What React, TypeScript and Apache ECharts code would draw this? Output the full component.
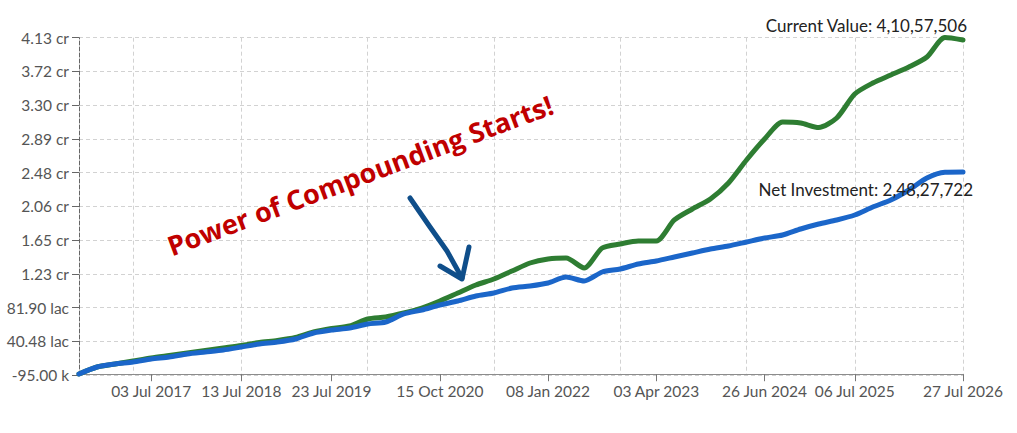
import React, { useEffect, useRef } from "react";
import * as echarts from "echarts";

// Dates of the data points (every 75 days, last point = current date)
const categories = [
  "06 Sep 2016", "20 Nov 2016", "03 Feb 2017", "19 Apr 2017", "03 Jul 2017",
  "16 Sep 2017", "30 Nov 2017", "13 Feb 2018", "29 Apr 2018", "13 Jul 2018",
  "26 Sep 2018", "10 Dec 2018", "23 Feb 2019", "09 May 2019", "23 Jul 2019",
  "06 Oct 2019", "20 Dec 2019", "04 Mar 2020", "18 May 2020", "01 Aug 2020",
  "15 Oct 2020", "29 Dec 2020", "14 Mar 2021", "28 May 2021", "11 Aug 2021",
  "25 Oct 2021", "08 Jan 2022", "24 Mar 2022", "07 Jun 2022", "21 Aug 2022",
  "04 Nov 2022", "18 Jan 2023", "03 Apr 2023", "17 Jun 2023", "31 Aug 2023",
  "14 Nov 2023", "28 Jan 2024", "12 Apr 2024", "26 Jun 2024", "09 Sep 2024",
  "23 Nov 2024", "06 Feb 2025", "22 Apr 2025", "06 Jul 2025", "19 Sep 2025",
  "03 Dec 2025", "16 Feb 2026", "02 May 2026", "16 Jul 2026", "27 Jul 2026",
];

const currentValue = [
  28000, 888000, 1256000, 1625000, 1993000, 2300000, 2607000, 2914000, 3221000, 3528000,
  3897000, 4143000, 4511000, 5187000, 5616000, 5924000, 6783000, 7029000, 7520000, 8134000,
  8994000, 9977000, 10960000, 11697000, 12679000, 13662000, 14153000, 14276000, 13048000, 15505000,
  15996000, 16364000, 16364000, 18944000, 20294000, 21523000, 23488000, 26313000, 28892000, 30980000,
  30857000, 30304000, 31472000, 34420000, 35770000, 36753000, 37736000, 38964000, 41360000, 41057506,
];

const netInvestment = [
  28000, 888000, 1256000, 1502000, 1870000, 2116000, 2484000, 2730000, 2976000, 3344000,
  3713000, 3958000, 4327000, 5064000, 5432000, 5678000, 6169000, 6415000, 7398000, 7889000,
  8503000, 8994000, 9608000, 9977000, 10591000, 10837000, 11205000, 11942000, 11451000, 12556000,
  12925000, 13539000, 13907000, 14399000, 14890000, 15381000, 15750000, 16241000, 16732000, 17101000,
  17838000, 18452000, 18943000, 19557000, 20540000, 21400000, 22628000, 24102000, 24800000, 24827722,
];

const yTickLabels = [
  "-95.00 k", "40.48 lac", "81.90 lac", "1.23 cr", "1.65 cr", "2.06 cr",
  "2.48 cr", "2.89 cr", "3.30 cr", "3.72 cr", "4.13 cr",
];
const yMin = -95000;
const yMax = 41335000;

const xLabelIndices = [4, 9, 14, 20, 26, 32, 38, 43, 49];
const xGridIndices = [3, 9, 16, 23, 30, 37, 43, 49];

const annotationText = "Power of Compounding Starts!";

function inr(n: number): string {
  const s = Math.round(n).toString();
  const last3 = s.slice(-3);
  let rest = s.slice(0, -3);
  if (!rest) return last3;
  rest = rest.replace(/\B(?=(\d{2})+(?!\d))/g, ",");
  return rest + "," + last3;
}

export default function App() {
  const ref = useRef<HTMLDivElement>(null);

  useEffect(() => {
    document.body.style.margin = "0";
    const chart = echarts.init(ref.current as HTMLDivElement, null, { renderer: "svg" });
    const labelSet = new Set(xLabelIndices);
    const gridSet = new Set(xGridIndices);
    const valOf = (p: any) => (Array.isArray(p.value) ? p.value[1] : p.value);
    const grey = "#d2d2d2";

    const option: any = {
      animation: false,
      backgroundColor: "#ffffff",
      grid: { left: 79, right: 54, top: 37.7, bottom: 58, containLabel: false, outerBoundsMode: "none" },
      xAxis: {
        type: "category",
        data: categories,
        boundaryGap: false,
        axisLine: { show: true, lineStyle: { color: "#8c8c8c", width: 1.2 } },
        axisTick: {
          show: true,
          interval: (i: number) => labelSet.has(i),
          length: 7,
          lineStyle: { color: "#777" },
        },
        axisLabel: {
          interval: (i: number) => labelSet.has(i),
          color: "#555",
          fontSize: 15.5,
          fontFamily: "Lato",
          margin: 8,
        },
        splitLine: {
          show: true,
          interval: (i: number) => gridSet.has(i),
          lineStyle: { color: grey, type: [4, 3] },
        },
      },
      yAxis: [
        { type: "value", min: yMin, max: yMax, show: false },
        {
          type: "value",
          min: 0,
          max: yTickLabels.length - 1,
          interval: 1,
          position: "left",
          axisLine: { show: true, lineStyle: { color: "#666", type: [4, 2] } },
          axisTick: { show: true, length: 7, lineStyle: { color: "#666" } },
          axisLabel: {
            formatter: (v: number) => yTickLabels[Math.round(v)],
            color: "#555",
            fontSize: 15.5,
            fontFamily: "Lato",
            margin: 10,
          },
          splitLine: { show: true, lineStyle: { color: grey, type: [4, 3] } },
        },
      ],
      series: [
        {
          name: "Current Value",
          type: "line",
          data: currentValue,
          yAxisIndex: 0,
          showSymbol: false,
          smooth: 0.25,
          clip: false,
          z: 2,
          lineStyle: { color: "#2E7D32", width: 5, cap: "round", join: "round" },
          itemStyle: { color: "#2E7D32" },
          endLabel: {
            show: true,
            formatter: (p: any) => "Current Value: " + inr(valOf(p)),
            align: "right",
            verticalAlign: "middle",
            distance: 0,
            offset: [4, -14],
            color: "#222",
            fontSize: 17,
            fontFamily: "Lato",
          },
        },
        {
          name: "Net Investment",
          type: "line",
          data: netInvestment,
          yAxisIndex: 0,
          showSymbol: false,
          smooth: 0.25,
          clip: false,
          z: 3,
          lineStyle: { color: "#1B66C9", width: 5, cap: "round", join: "round" },
          itemStyle: { color: "#1B66C9" },
          endLabel: {
            show: true,
            formatter: (p: any) => "Net Investment: " + inr(valOf(p)),
            align: "right",
            verticalAlign: "middle",
            distance: 0,
            offset: [10, 17],
            color: "#222",
            fontSize: 17,
            fontFamily: "Lato",
          },
        },
      ],
      graphic: [
        {
          type: "text",
          x: 360,
          y: 175,
          rotation: (20.5 * Math.PI) / 180,
          z: 10,
          style: {
            text: annotationText,
            fill: "#C00000",
            fontSize: 27,
            fontWeight: "bold",
            fontFamily: "Open Sans",
            align: "center",
            verticalAlign: "middle",
            textAlign: "center",
            textVerticalAlign: "middle",
          },
        },
        {
          type: "polyline",
          z: 10,
          shape: { points: [[410, 198], [430, 227], [447, 251], [462, 278]] },
          style: { stroke: "#0F4E8A", lineWidth: 5, lineCap: "round", lineJoin: "round", fill: "none" },
        },
        {
          type: "polyline",
          z: 10,
          shape: { points: [[440, 266], [462, 279], [469, 247]] },
          style: { stroke: "#0F4E8A", lineWidth: 5, lineCap: "round", lineJoin: "round", fill: "none" },
        },
      ],
    };

    chart.setOption(option);
    return () => chart.dispose();
  }, []);

  return <div ref={ref} style={{ width: 1017, height: 433 }} />;
}
